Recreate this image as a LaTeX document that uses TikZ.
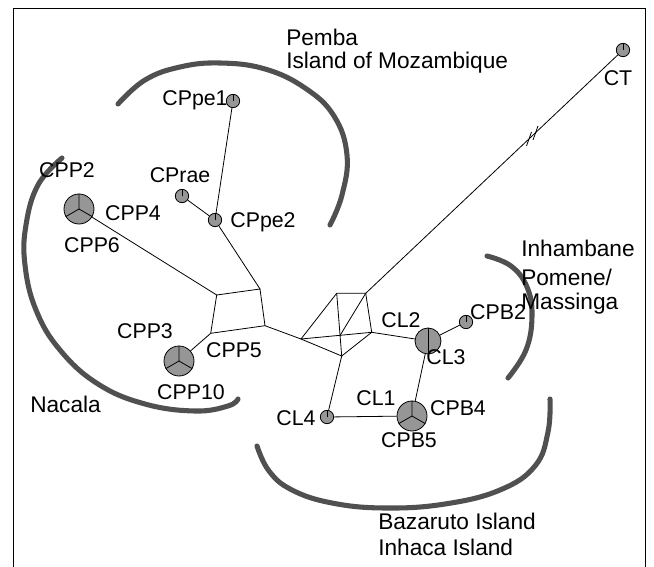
\documentclass[tikz,border=0pt]{standalone}
\usepackage{fontspec}
\setmainfont{Liberation Sans}
\definecolor{hapgray}{RGB}{150,150,150}
\definecolor{regiongray}{RGB}{80,80,80}
\begin{document}
\begin{tikzpicture}[x=0.75pt,y=-0.75pt,
  hap/.style={circle,draw=black,fill=hapgray,line width=0.6pt,inner sep=0pt},
  hapS/.style={hap,minimum size=10pt},
  hapM/.style={hap,minimum size=19.5pt},
  hapL/.style={hap,minimum size=22.5pt},
  lbl/.style={font=\fontsize{16}{19}\selectfont,inner sep=0pt},
  region/.style={font=\fontsize{17}{20}\selectfont,inner sep=0pt,anchor=west},
  link/.style={draw=black,line width=0.6pt},
  divide/.style={draw=black,line width=0.6pt},
  zone/.style={draw=regiongray,line width=3.8pt,line cap=round}]
\useasboundingbox (0,0) rectangle (654,567);
\draw[line width=0.6pt] (13,8) rectangle (645,580);

% geographic groupings
\draw[zone] plot[smooth,tension=0.7] coordinates {(118,104) (145,80) (180,67) (220,63) (265,69) (305,88) (334,116) (347,155) (342,195) (330,225)};
\draw[zone] plot[smooth,tension=0.7] coordinates {(62,158) (38,185) (26,225) (25,265) (36,310) (60,350) (98,384) (145,404) (195,411) (228,406) (238,399)};
\draw[zone] plot[smooth,tension=0.7] coordinates {(487,256) (511,266) (527,287) (532,316) (526,350) (508,378)};
\draw[zone] plot[smooth,tension=0.7] coordinates {(257,446) (269,471) (292,490) (332,503) (385,508) (445,504) (500,490) (535,466) (548,432) (550,399)};

% median network vertices
\coordinate (bTL) at (216.7,295);
\coordinate (bTR) at (260,289);
\coordinate (bBR) at (265,325.7);
\coordinate (bBL) at (210.7,333.3);
\coordinate (cL) at (301,339);
\coordinate (cTL) at (336.7,293.3);
\coordinate (cTR) at (365.7,293.3);
\coordinate (cR) at (371.7,332.3);
\coordinate (cB) at (341.7,356);
\coordinate (cI) at (340,335.5);

% haplotypes
\node[hapS] (CT) at (623,50) {};
\node[hapS] (CPpe1) at (233,101) {};
\node[hapS] (CPrae) at (182,196) {};
\node[hapS] (CPpe2) at (215,220) {};
\node[hapL] (CPP2) at (79,209) {};
\node[hapL] (CPP3) at (179,361) {};
\node[hapM] (CL2) at (428,341) {};
\node[hapS] (CPB2) at (466,322) {};
\node[hapL] (CPB5) at (412,416) {};
\node[hapS] (CL4) at (327,417) {};

% connectors
\draw[link] (CPpe1) -- (CPpe2);
\draw[link] (CPrae) -- (CPpe2);
\draw[link] (CPpe2) -- (bTR);
\draw[link] (CPP2) -- (bTL);
\draw[link] (CPP3) -- (bBL);
\draw[link] (bTL) -- (bTR) -- (bBR) -- (bBL) -- cycle;
\draw[link] (bBR) -- (cL);
\draw[link] (cL) -- (cTL) -- (cTR) -- (cR) -- (cB) -- cycle;
\draw[link] (cL) -- (cR);
\draw[link] (cTL) -- (cB);
\draw[link] (cTR) -- (cI);
\draw[link] (cTR) -- (CT);
\draw[link] (cR) -- (CL2);
\draw[link] (cB) -- (CL4);
\draw[link] (CL2) -- (CPB2);
\draw[link] (CL2) -- (CPB5);
\draw[link] (CL4) -- (CPB5);

% break marks on the long branch
\draw[link] (526.5,146) -- (531.5,132);
\draw[link] (533,140) -- (538,126);

% sector lines inside haplotype circles
\foreach \n in {CT,CPpe1,CPrae,CPpe2,CPB2,CL4}
  \draw[divide] (\n.center) -- (\n.north);
\foreach \n in {CPP2,CPP3,CPB5}
  \draw[divide] (\n.center) -- (\n.north) (\n.center) -- (\n.210) (\n.center) -- (\n.330);
\draw[divide] (CL2.north) -- (CL2.south);

% haplotype labels
\node[lbl] (tCT) at (618,78) {CT};
\node[lbl] (tCPpe1) at (195,100) {CPpe1};
\node[lbl] (tCPrae) at (180,175) {CPrae};
\node[lbl] (tCPpe2) at (263,222) {CPpe2};
\node[lbl] (tCPP2) at (67,170) {CPP2};
\node[lbl] (tCPP4) at (133,213) {CPP4};
\node[lbl] (tCPP6) at (92,245) {CPP6};
\node[lbl] (tCPP3) at (145,331) {CPP3};
\node[lbl] (tCPP5) at (234,350) {CPP5};
\node[lbl] (tCPP10) at (191,392) {CPP10};
\node[lbl] (tCL2) at (401,320) {CL2};
\node[lbl] (tCL3) at (446,357) {CL3};
\node[lbl] (tCL1) at (376,398) {CL1};
\node[lbl] (tCL4) at (296,418) {CL4};
\node[lbl] (tCPB4) at (458,408) {CPB4};
\node[lbl] (tCPB5) at (409,440) {CPB5};
\node[lbl] (tCPB2) at (498,312) {CPB2};

% region labels
\node[region] (rPemba) at (286,37) {Pemba};
\node[region] (rMoz) at (286,63) {Island of Mozambique};
\node[region] (rInh) at (521,248) {Inhambane};
\node[region] (rPom) at (521,277) {Pomene/};
\node[region] (rMas) at (521,304) {Massinga};
\node[region] (rNac) at (30,404) {Nacala};
\node[region] (rBaz) at (378,521) {Bazaruto Island};
\node[region] (rInc) at (378,547) {Inhaca Island};
\end{tikzpicture}
\end{document}
